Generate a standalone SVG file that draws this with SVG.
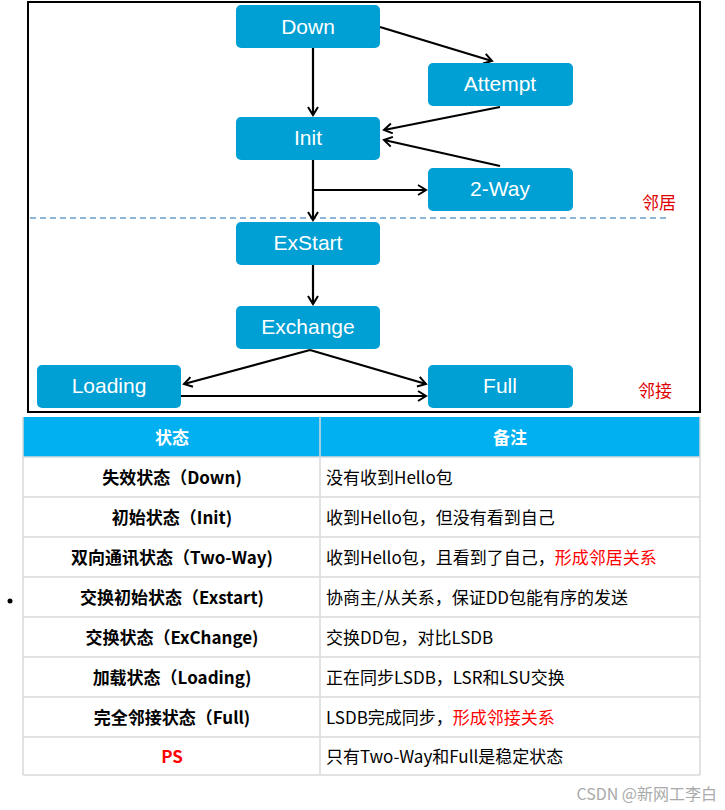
<svg xmlns="http://www.w3.org/2000/svg" width="725" height="810" viewBox="0 0 725 810">
<style>
.n rect{fill:#009fd4;}
.n text{fill:#fff;font-family:"Liberation Sans",Arial,sans-serif;font-size:21px;text-anchor:middle;}
.c line,.c polyline{stroke:#000;stroke-width:2.2;fill:none;marker-end:url(#a);}
.cn{font-family:"Noto Sans CJK SC",sans-serif;}
.th{fill:#fff;font-size:17px;font-weight:bold;text-anchor:middle;}
.tl{font-size:17px;font-weight:bold;text-anchor:middle;fill:#000;}
.tr{font-size:17px;fill:#000;}
.g{stroke:#d9d9d9;stroke-width:1.5;}
</style>
<defs>
<marker id="a" markerWidth="12" markerHeight="12" refX="9" refY="6" orient="auto" markerUnits="userSpaceOnUse">
<path d="M1,1 L9,6 L1,11" fill="none" stroke="#000" stroke-width="2"/>
</marker>
</defs>
<rect x="0" y="0" width="725" height="810" fill="#fff"/>
<rect x="28" y="2" width="672" height="410" fill="none" stroke="#000" stroke-width="2"/>
<line x1="30" y1="218" x2="668" y2="218" stroke="#1f6fb5" stroke-width="1.2" stroke-dasharray="6,4"/>
<g class="c">
<line x1="313" y1="48" x2="313" y2="115"/>
<line x1="380" y1="27" x2="492" y2="61"/>
<line x1="500" y1="107" x2="384" y2="130"/>
<line x1="500" y1="166" x2="384" y2="140"/>
<line x1="313" y1="160" x2="313" y2="220"/>
<line x1="313" y1="190" x2="426" y2="190"/>
<line x1="313" y1="265" x2="313" y2="304"/>
<line x1="310" y1="350" x2="184" y2="384"/>
<line x1="310" y1="350" x2="426" y2="384"/>
<line x1="181" y1="396" x2="426" y2="396"/>
</g>
<g id="down" class="n"><rect x="236" y="5" width="144" height="43" rx="5"/><text x="308" y="34">Down</text></g>
<g id="attempt" class="n"><rect x="428" y="63" width="145" height="43" rx="5"/><text x="500" y="91">Attempt</text></g>
<g id="init" class="n"><rect x="236" y="117" width="144" height="43" rx="5"/><text x="308" y="145">Init</text></g>
<g id="twoway" class="n"><rect x="428" y="168" width="145" height="43" rx="5"/><text x="500" y="196">2-Way</text></g>
<g id="exstart" class="n"><rect x="236" y="222" width="144" height="43" rx="5"/><text x="308" y="250">ExStart</text></g>
<g id="exchange" class="n"><rect x="236" y="306" width="144" height="43" rx="5"/><text x="308" y="334">Exchange</text></g>
<g id="loading" class="n"><rect x="37" y="365" width="144" height="43" rx="5"/><text x="109" y="393">Loading</text></g>
<g id="full" class="n"><rect x="428" y="365" width="145" height="43" rx="5"/><text x="500" y="393">Full</text></g>
<text class="cn" x="642" y="209" fill="#d00" font-size="17">邻居</text>
<text class="cn" x="638" y="397" fill="#d00" font-size="17">邻接</text>
<g id="table" class="cn">
<rect x="23" y="417" width="677" height="40" fill="#00b0f0"/>
<text class="th" x="172" y="444">状态</text>
<text class="th" x="510" y="444">备注</text>
<g class="g">
<line x1="23" y1="457" x2="700" y2="457"/>
<line x1="23" y1="497" x2="700" y2="497"/>
<line x1="23" y1="537" x2="700" y2="537"/>
<line x1="23" y1="577" x2="700" y2="577"/>
<line x1="23" y1="617" x2="700" y2="617"/>
<line x1="23" y1="657" x2="700" y2="657"/>
<line x1="23" y1="697" x2="700" y2="697"/>
<line x1="23" y1="737" x2="700" y2="737"/>
<line x1="23" y1="775" x2="700" y2="775"/>
<line x1="23" y1="417" x2="23" y2="775"/>
<line x1="320" y1="417" x2="320" y2="775"/>
<line x1="700" y1="417" x2="700" y2="775"/>
</g>
<text class="tl" x="172" y="484">失效状态（Down)</text>
<text class="tl" x="172" y="524">初始状态（Init)</text>
<text class="tl" x="172" y="564">双向通讯状态（Two-Way)</text>
<text class="tl" x="172" y="604">交换初始状态（Exstart)</text>
<text class="tl" x="172" y="644">交换状态（ExChange)</text>
<text class="tl" x="172" y="684">加载状态（Loading)</text>
<text class="tl" x="172" y="724">完全邻接状态（Full)</text>
<text class="tl" x="172" y="763" style="fill:#f00">PS</text>
<text class="tr" x="326" y="484">没有收到Hello包</text>
<text class="tr" x="326" y="524">收到Hello包，但没有看到自己</text>
<text class="tr" x="326" y="564">收到Hello包，且看到了自己，<tspan fill="#f00">形成邻居关系</tspan></text>
<text class="tr" x="326" y="604">协商主/从关系，保证DD包能有序的发送</text>
<text class="tr" x="326" y="644">交换DD包，对比LSDB</text>
<text class="tr" x="326" y="684">正在同步LSDB，LSR和LSU交换</text>
<text class="tr" x="326" y="724">LSDB完成同步，<tspan fill="#f00">形成邻接关系</tspan></text>
<text class="tr" x="326" y="763">只有Two-Way和Full是稳定状态</text>
</g>
<circle cx="10" cy="601" r="2.5" fill="#000"/>
<text class="cn" x="717" y="800" font-size="16" fill="#aaa" text-anchor="end">CSDN @新网工李白</text>
</svg>
